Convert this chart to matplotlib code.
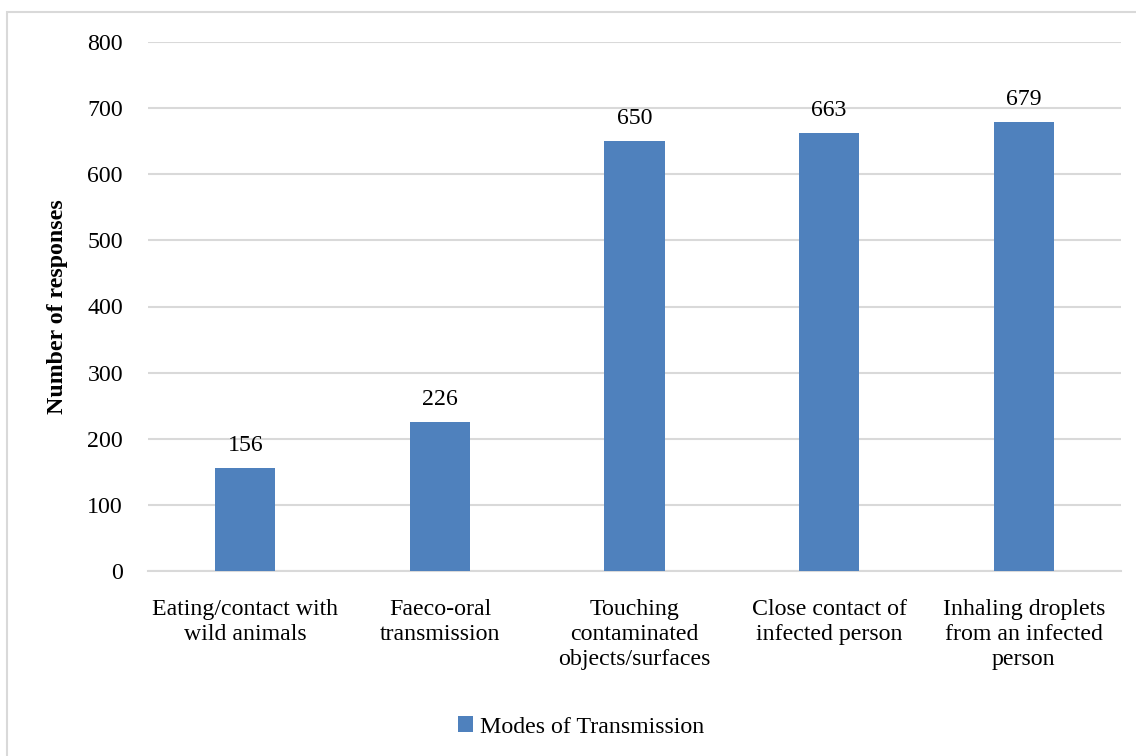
import matplotlib.pyplot as plt
from matplotlib.patches import Rectangle

# responses per mode of transmission
modes = ["Eating/contact with\nwild animals",
         "Faeco-oral\ntransmission",
         "Touching\ncontaminated\nobjects/surfaces",
         "Close contact of\ninfected person",
         "Inhaling droplets\nfrom an infected\nperson"]
responses = [156, 226, 650, 663, 679]
series_name = "Modes of Transmission"

plt.rcParams['font.family'] = ['Liberation Serif', 'DejaVu Serif']
fs = 17.2

W, H = 1136, 756
fig = plt.figure(figsize=(W / 100, H / 100), dpi=100)
ax = fig.add_axes([148 / W, 1 - 571 / H, (1121 - 148) / W, (571 - 42) / H])

# chart frame
fig.patches.append(Rectangle((7 / W, -0.05), 1.1, 1 - 12 / H + 0.05,
                             transform=fig.transFigure, fill=False,
                             edgecolor='#D9D9D9', linewidth=1.5))

x = range(len(modes))
bars = ax.bar(x, responses, width=0.31, color='#4F81BD', label=series_name, zorder=3)
for rect, v in zip(bars, responses):
    ax.text(rect.get_x() + rect.get_width() / 2, v + 18, str(v),
            ha='center', va='bottom', fontsize=fs)

ax.set_xlim(-0.5, len(modes) - 0.5)
ax.set_ylim(0, 800)
ax.set_yticks(range(0, 801, 100))
ax.grid(axis='y', color='#D9D9D9', linewidth=1.5, zorder=0)
for s in ['top', 'right', 'left']:
    ax.spines[s].set_visible(False)
ax.spines['bottom'].set_color('#D9D9D9')
ax.spines['bottom'].set_linewidth(1.5)
ax.tick_params(axis='both', length=0, labelsize=fs)
ax.tick_params(axis='y', pad=18)
ax.tick_params(axis='x', pad=20)
ax.set_xticks(list(x))
ax.set_xticklabels(modes, linespacing=1.25)

fig.text(57 / W, 1 - 307 / H, "Number of responses", rotation=90,
         ha='center', va='center', fontsize=fs, fontweight='bold')

fig.legend(handles=[bars], labels=[series_name], loc='center',
           bbox_to_anchor=(0.5 + 13 / W, 1 - 727 / H), frameon=False, fontsize=fs,
           handlelength=0.65, handleheight=0.65, handletextpad=0.3)

fig.savefig('out.png', dpi=100)
